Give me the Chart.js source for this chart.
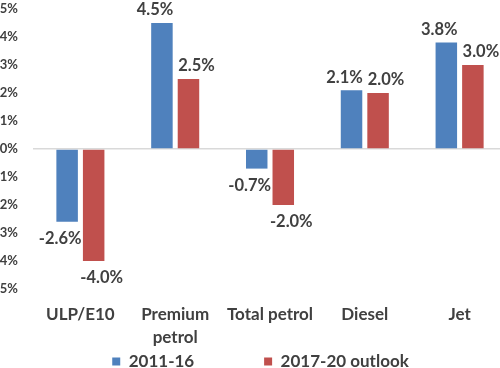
<!DOCTYPE html>
<html>
<head>
<meta charset="utf-8">
<script src="https://cdn.jsdelivr.net/npm/chart.js@4/dist/chart.umd.min.js"></script>
<style>
  html, body { margin: 0; padding: 0; background: #ffffff; overflow: hidden; }
  #wrap { position: absolute; left: 0; top: 0; width: 500px; height: 368px; overflow: hidden; }
  #c { position: absolute; left: 0; top: 0; }
</style>
</head>
<body>
<div id="wrap"><canvas id="c" width="510" height="380"></canvas></div>
<script>
const categories = [['ULP/E10'], ['Premium', 'petrol'], ['Total petrol'], ['Diesel'], ['Jet']];
const seriesNames = ['2011-16', '2017-20 outlook'];
const values2011 = [-2.6, 4.5, -0.7, 2.1, 3.8];
const values2017 = [-4.0, 2.5, -2.0, 2.0, 3.0];
const yTicks = [-5, -4, -3, -2, -1, 0, 1, 2, 3, 4, 5];

const FONT = 'Lato, "DejaVu Sans", sans-serif';
const TEXT = '#404040';
const LEGEND_FONT = 'bold 17px ' + FONT;

const valueLabels = {
  id: 'valueLabels',
  afterDatasetsDraw(chart) {
    const ctx = chart.ctx;
    ctx.save();
    ctx.font = 'bold 16.5px ' + FONT;
    ctx.fillStyle = TEXT;
    ctx.textAlign = 'center';
    ctx.textBaseline = 'middle';
    chart.data.datasets.forEach((ds, di) => {
      const meta = chart.getDatasetMeta(di);
      const shift = di === 0 ? -7 : 8;
      meta.data.forEach((bar, i) => {
        const v = ds.data[i];
        const y = v >= 0 ? bar.y - 13 : bar.y + 17;
        ctx.fillText(v.toFixed(1) + '%', bar.x + shift, y);
      });
    });
    ctx.restore();
  }
};

const legendShift = {
  id: 'legendShift',
  afterLayout(chart) {
    if (chart.legend) {
      chart.legend.left += 7;
      chart.legend.right += 7;
    }
  }
};

new Chart(document.getElementById('c'), {
  type: 'bar',
  data: {
    labels: categories,
    datasets: [
      { label: seriesNames[0], data: values2011, backgroundColor: '#4F81BD',
        categoryPercentage: 0.56, barPercentage: 0.81 },
      { label: seriesNames[1], data: values2017, backgroundColor: '#C0504D',
        categoryPercentage: 0.56, barPercentage: 0.81 }
    ]
  },
  options: {
    responsive: false,
    animation: false,
    layout: { padding: { top: 9, right: 3, left: 0, bottom: 0 } },
    plugins: {
      tooltip: { enabled: false },
      legend: {
        position: 'bottom',
        labels: {
          font: { family: FONT, size: 17, weight: 'bold' },
          color: TEXT,
          boxWidth: 8,
          boxHeight: 8,
          padding: 4,
          generateLabels(chart) {
            const items = Chart.defaults.plugins.legend.labels.generateLabels(chart);
            const ctx = chart.ctx;
            ctx.save();
            ctx.font = LEGEND_FONT;
            const em = ctx.measureText('\u2003').width || 17;
            const thin = ctx.measureText('\u2009').width || 3;
            ctx.restore();
            items.forEach((it, i) => {
              it.lineWidth = 0;
              if (i === 0) {
                let need = 68;
                let s = '';
                while (need >= em) { s += '\u2003'; need -= em; }
                while (need >= thin) { s += '\u2009'; need -= thin; }
                it.text = it.text + s;
              }
            });
            return items;
          }
        }
      }
    },
    scales: {
      x: {
        afterFit(scale) { scale.height = 60; scale.paddingLeft = 0; scale.paddingRight = 0; },
        grid: { display: false },
        border: { display: false },
        ticks: {
          font: { family: FONT, size: 17, weight: 'bold', lineHeight: 1.35 },
          color: TEXT,
          padding: 6,
          maxRotation: 0,
          autoSkip: false
        }
      },
      y: {
        min: -5,
        max: 5,
        afterFit(scale) { scale.width = 33; scale.paddingTop = 0; scale.paddingBottom = 0; },
        afterBuildTicks(scale) { scale.ticks = yTicks.map(v => ({ value: v })); },
        border: { display: false },
        grid: {
          drawTicks: false,
          color: ctx => (ctx.tick && ctx.tick.value === 0 ? '#D9D9D9' : 'rgba(0,0,0,0)'),
          lineWidth: 1.5
        },
        ticks: {
          font: { family: FONT, size: 13, weight: 'bold' },
          color: TEXT,
          padding: 15,
          callback: v => v + '%'
        }
      }
    }
  },
  plugins: [valueLabels, legendShift]
});
</script>
</body>
</html>
